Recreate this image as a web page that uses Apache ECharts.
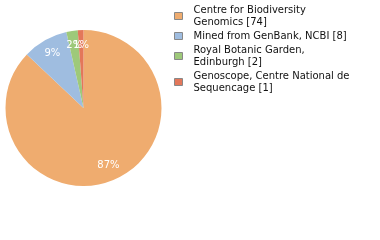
<!DOCTYPE html>
<html><head><meta charset="utf-8">
<script src="https://cdn.jsdelivr.net/npm/echarts@6/dist/echarts.min.js"></script>
<style>html,body{margin:0;padding:0;background:#fff}#c{width:380px;height:240px}</style>
</head><body><div id="c"></div>
<script>
const categories = ['Centre for Biodiversity Genomics', 'Mined from GenBank, NCBI', 'Royal Botanic Garden, Edinburgh', 'Genoscope, Centre National de Sequencage'];
const legendLines = ['Centre for Biodiversity\nGenomics', 'Mined from GenBank, NCBI', 'Royal Botanic Garden,\nEdinburgh', 'Genoscope, Centre National de\nSequencage'];
const values = [74, 8, 2, 1];
const colors = ['#efac6f', '#9fbde0', '#9ec97a', '#e3775a'];
const total = values.reduce((a, b) => a + b, 0);
const data = categories.map((n, i) => ({ name: n, value: values[i] }));
const chart = echarts.init(document.getElementById('c'), null, { renderer: 'canvas' });
chart.setOption({
  animation: false,
  color: colors,
  legend: {
    orient: 'vertical', left: 174, top: 4, itemGap: 2, padding: 0,
    itemWidth: 8, itemHeight: 7, icon: 'rect',
    itemStyle: { borderColor: '#888', borderWidth: 1 },
    textStyle: { fontFamily: 'DejaVu Sans', fontSize: 10, color: '#111', lineHeight: 12, padding: [0, 0, 0, 6] },
    formatter: name => { const i = categories.indexOf(name); return legendLines[i] + ' [' + values[i] + ']'; },
    data: categories
  },
  series: [
    { type: 'pie', center: [83.5, 108], radius: [0, 78], startAngle: 90, clockwise: true,
      silent: true, label: { show: false }, labelLine: { show: false }, data: data },
    { type: 'pie', center: [83.5, 108], radius: [42, 78], startAngle: 90, clockwise: true,
      silent: true, avoidLabelOverlap: false, itemStyle: { color: 'rgba(0,0,0,0)' },
      label: { show: true, position: 'inside', color: '#fff', fontFamily: 'DejaVu Sans', fontSize: 10,
        formatter: p => Math.round(p.value / total * 100) + '%' },
      labelLayout: { hideOverlap: false },
      labelLine: { show: false }, data: data }
  ]
});
</script></body></html>
